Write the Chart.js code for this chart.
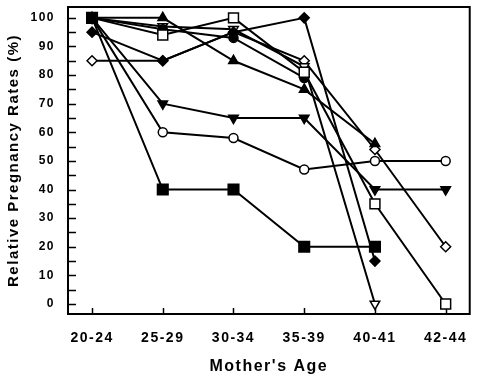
<!DOCTYPE html>
<html lang="en">
<head>
  <meta charset="UTF-8">
  <title>Relative Pregnancy Rates by Mother's Age</title>
  <script src="https://cdn.jsdelivr.net/npm/chart.js"></script>
  <style>
    html, body { margin: 0; padding: 0; background: #fff; }
    #wrap { width: 480px; height: 376px; }
  </style>
</head>
<body>
  <div id="wrap"><canvas id="chart"></canvas></div>

  <script>
    const ages = ['20-24', '25-29', '30-34', '35-39', '40-41', '42-44'];
    const yTicks = [0, 10, 20, 30, 40, 50, 60, 70, 80, 90, 100];

    // one array per study
    const filledSquare = [100, 40, 40, 20, 20, null];
    const openCircle   = [100, 60, 58, 47, 50, 50];
    const filledDown   = [100, 70, 65, 65, 40, 40];
    const openDiamond  = [85, 85, 95, 85, 54, 20];
    const filledDiamond = [95, 85, 95, 100, 15, null];
    const openSquare   = [100, 94, 100, 81, 35, 0];
    const filledUp     = [100, 100, 85, 75, 56, null];
    const openDown     = [100, 97, 96, 83, 0, null];
    const filledCircle = [100, 96, 93, 79, null, null];

    const chartEl = document.getElementById('chart');
    const FONT = '"Liberation Sans", Arial, sans-serif';

    function series(values, style, open, radius, rotation) {
      return {
        data: values.map((v, i) => ({ x: i, y: v })),
        borderColor: '#000',
        borderWidth: 2,
        pointStyle: style,
        pointRotation: rotation || 0,
        pointRadius: radius,
        pointHoverRadius: radius,
        pointBackgroundColor: open ? '#fff' : '#000',
        pointBorderColor: '#000',
        pointBorderWidth: 1.5,
        tension: 0
      };
    }

    const frame = {
      id: 'frame',
      beforeDraw(chart) {
        chart.ctx.letterSpacing = '1.5px';
      },
      beforeDatasetsDraw(chart) {
        const { ctx, chartArea: a, scales: { x, y } } = chart;
        ctx.save();
        ctx.strokeStyle = '#000';
        ctx.lineWidth = 2;
        ctx.strokeRect(a.left, a.top, a.right - a.left, a.bottom - a.top);
        ctx.lineWidth = 1.5;
        ctx.beginPath();
        for (let v = 0; v <= 100; v += 5) {
          const py = Math.round(y.getPixelForValue(v)) + 0.5;
          ctx.moveTo(a.left, py);
          ctx.lineTo(a.left + 8, py);
        }
        ages.forEach((_, i) => {
          const px = Math.round(x.getPixelForValue(i)) + 0.5;
          ctx.moveTo(px, a.bottom);
          ctx.lineTo(px, a.bottom - 6);
        });
        ctx.stroke();
        ctx.restore();
      }
    };

    new Chart(chartEl, {
      type: 'line',
      data: {
        datasets: [
          series(filledSquare, 'rect', false, 7.5),
          series(openCircle, 'circle', true, 4.5),
          series(filledDown, 'triangle', false, 5.5, 180),
          series(filledDiamond, 'rectRot', false, 5),
          series(openSquare, 'rect', true, 7),
          series(filledUp, 'triangle', false, 5.5),
          series(filledCircle, 'circle', false, 4.5),
          series(openDown, 'triangle', true, 5.5, 180),
          series(openDiamond, 'rectRot', true, 5)
        ]
      },
      options: {
        responsive: true,
        maintainAspectRatio: false,
        animation: false,
        layout: { autoPadding: false, padding: { top: 7, right: 7, left: 0, bottom: 0 } },
        plugins: {
          legend: { display: false },
          tooltip: { enabled: false }
        },
        scales: {
          x: {
            type: 'linear',
            min: -0.34,
            max: 5.34,
            afterBuildTicks: s => { s.ticks = ages.map((_, i) => ({ value: i })); },
            afterFit: s => { s.height = 62; },
            grid: { display: false, drawTicks: false },
            border: { display: false },
            ticks: {
              padding: 16,
              color: '#000',
              maxRotation: 0,
              font: { family: FONT, size: 14, weight: 'bold' },
              callback: v => ages[v]
            },
            title: {
              display: true,
              text: "Mother's Age",
              color: '#000',
              padding: { top: 4, bottom: 0 },
              font: { family: FONT, size: 16, weight: 'bold' }
            }
          },
          y: {
            min: -3.5,
            max: 103.8,
            afterBuildTicks: s => { s.ticks = yTicks.map(v => ({ value: v })); },
            afterFit: s => {
              s.width = 68;
              s.paddingTop = 0;
              s.paddingBottom = 0;
            },
            grid: { display: false, drawTicks: false },
            border: { display: false },
            ticks: {
              padding: 13,
              color: '#000',
              font: { family: FONT, size: 12, weight: 'bold' }
            },
            title: {
              display: true,
              text: 'Relative Pregnancy Rates (%)',
              color: '#000',
              padding: { top: 5, bottom: 0 },
              font: { family: FONT, size: 15, weight: 'bold' }
            }
          }
        }
      },
      plugins: [frame]
    });
  </script>
</body>
</html>
